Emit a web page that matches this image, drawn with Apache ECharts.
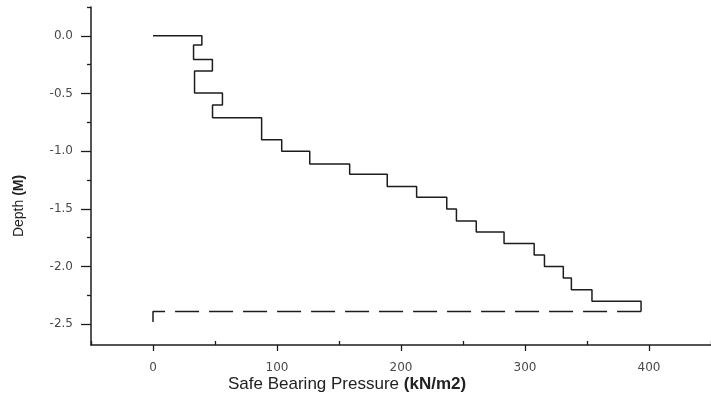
<!DOCTYPE html>
<html>
<head>
<meta charset="utf-8">
<script src="https://cdn.jsdelivr.net/npm/echarts@6/dist/echarts.min.js"></script>
<style>
  html, body { margin: 0; padding: 0; background: #fff; }
  #chart { width: 711px; height: 407px; }
</style>
</head>
<body>
<div id="chart"></div>
<script>
// stepped profile: each point is the corner where a horizontal run ends (step: 'end')
var pressure = [0, 39.4, 32.7, 47.9, 33.5, 56, 48, 87.6, 103.8, 126.4, 158.6, 188.9, 212.6, 236.9, 244.7, 260.7, 283.1, 307.4, 315.7, 330.9, 337.4, 354, 393.6]
var depth = [0, -0.08, -0.205, -0.305, -0.495, -0.6, -0.71, -0.9, -1.0, -1.11, -1.2, -1.305, -1.4, -1.5, -1.605, -1.7, -1.8, -1.9, -2.0, -2.1, -2.2, -2.3, -2.39]

// dashed return line at the bottom
var returnPressure = [393.6, 0, 0]
var returnDepth = [-2.39, -2.39, -2.48]

// tick marks / labels
var xMajor = [0, 100, 200, 300, 400]
var xMinor = [-50, 50, 150, 250, 350, 450]
var yMajor = [0, -0.5, -1.0, -1.5, -2.0, -2.5]
var yMinor = [0.25, -0.25, -0.75, -1.25, -1.75, -2.25]

function zip(a, b) {
  return a.map(function (v, i) { return [v, b[i]] })
}

var ink = '#1c1c1c'
var labelColor = '#4a4a4a'
var gridBox = { left: 91, right: -10, top: 7, bottom: 62 }

var chart = echarts.init(document.getElementById('chart'))

chart.setOption({
  animation: false,
  backgroundColor: '#fff',
  grid: [
    Object.assign({}, gridBox),
    Object.assign({}, gridBox)
  ],
  xAxis: [{
    type: 'value',
    gridIndex: 0,
    position: 'bottom',
    min: -50,
    max: 450,
    axisLine: { onZero: false, lineStyle: { color: ink, width: 1.5 } },
    axisTick: { customValues: xMajor, length: 6, lineStyle: { color: ink, width: 1.3 } },
    axisLabel: {
      customValues: xMajor,
      margin: 17,
      color: labelColor,
      fontFamily: 'DejaVu Sans',
      fontSize: 12
    },
    splitLine: { show: false }
  }, {
    // minor ticks, drawn on an overlapping grid so both sit on the bottom
    type: 'value',
    gridIndex: 1,
    position: 'bottom',
    min: -50,
    max: 450,
    axisLine: { show: false, onZero: false },
    axisTick: { customValues: xMinor, inside: true, length: 4, lineStyle: { color: ink, width: 1.3 } },
    axisLabel: { show: false },
    splitLine: { show: false }
  }],
  yAxis: [{
    type: 'value',
    gridIndex: 0,
    position: 'left',
    min: -2.68,
    max: 0.25,
    axisLine: { show: true, onZero: false, lineStyle: { color: ink, width: 1.5 } },
    axisTick: { show: true, customValues: yMajor, length: 10, lineStyle: { color: ink, width: 1.3 } },
    axisLabel: {
      customValues: yMajor,
      margin: 18,
      color: labelColor,
      fontFamily: 'DejaVu Sans',
      fontSize: 12,
      formatter: function (v) { return v.toFixed(1) }
    },
    splitLine: { show: false }
  }, {
    type: 'value',
    gridIndex: 1,
    position: 'left',
    min: -2.68,
    max: 0.25,
    axisLine: { show: false, onZero: false },
    axisTick: { show: true, customValues: yMinor, length: 4, lineStyle: { color: ink, width: 1.3 } },
    axisLabel: { show: false },
    splitLine: { show: false }
  }],
  graphic: [{
    type: 'text',
    left: 228,
    top: 376,
    style: {
      text: '{n|Safe Bearing Pressure }{b|(kN/m2)}',
      fill: '#222',
      rich: {
        n: { fontFamily: 'Liberation Sans', fontSize: 17, fill: '#222' },
        b: { fontFamily: 'Liberation Sans', fontSize: 17, fontWeight: 'bold', fill: '#222' }
      }
    }
  }, {
    type: 'text',
    x: 19,
    y: 206,
    rotation: Math.PI / 2,
    style: {
      text: '{n|Depth }{b|(M)}',
      align: 'center',
      verticalAlign: 'middle',
      fill: '#222',
      rich: {
        n: { fontFamily: 'Liberation Sans', fontSize: 14, fill: '#222' },
        b: { fontFamily: 'Liberation Sans', fontSize: 14, fontWeight: 'bold', fill: '#222' }
      }
    }
  }],
  series: [{
    name: 'Safe bearing pressure',
    type: 'line',
    xAxisIndex: 0,
    yAxisIndex: 0,
    step: 'end',
    symbol: 'none',
    data: zip(pressure, depth),
    lineStyle: { color: ink, width: 1.5 }
  }, {
    name: 'Return',
    type: 'line',
    xAxisIndex: 0,
    yAxisIndex: 0,
    symbol: 'none',
    data: zip(returnPressure, returnDepth),
    lineStyle: { color: ink, width: 1.5, type: [24, 10] }
  }]
})
</script>
</body>
</html>
